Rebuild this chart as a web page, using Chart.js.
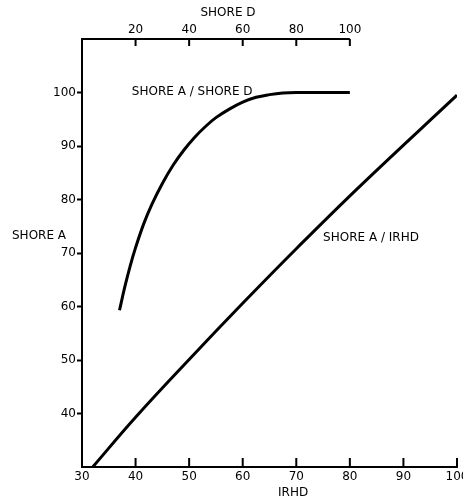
<!DOCTYPE html>
<html>
<head>
<meta charset="utf-8">
<script src="https://cdn.jsdelivr.net/npm/chart.js@4/dist/chart.umd.min.js"></script>
<style>
  body { margin: 0; background: #fff; }
  #shoreChart { display: block; }
</style>
</head>
<body>
<canvas id="shoreChart" width="463" height="500"></canvas>
<script>
// Shore A vs IRHD (bottom axis)
var irhd = [32, 40, 50, 60, 70, 82, 100];
var shoreAvsIrhd = [30, 39.3, 50.1, 60.6, 70.8, 82.6, 99.5];

// Shore A vs Shore D (top axis)
var shoreD = [14, 16, 18, 20, 23, 26, 30, 34, 38, 42, 46, 50, 55, 60, 65, 70, 75, 80, 90, 100];
var shoreAvsD = [59.3, 63.7, 67.6, 71.0, 75.4, 79.0, 83.0, 86.4, 89.2, 91.6, 93.6, 95.3, 96.9, 98.2, 99.1, 99.6, 99.9, 100, 100, 100];

// tick labels
var irhdTicks = [30, 40, 50, 60, 70, 80, 90, 100];
var shoreDTicks = [20, 40, 60, 80, 100];
var shoreATicks = [40, 50, 60, 70, 80, 90, 100];

var FONT = '"DejaVu Sans", sans-serif';

function toPoints(xs, ys) {
    return xs.map(function (x, i) { return { x: x, y: ys[i] }; });
}

function setTicks(values) {
    return function (scale) {
        scale.ticks = values.map(function (v) { return { value: v }; });
    };
}

// inward tick marks, short top axis line and the free text labels
var decorations = {
    id: 'decorations',
    afterDraw: function (chart) {
        var c = chart.ctx;
        var x = chart.scales.x, x2 = chart.scales.x2, y = chart.scales.y;
        var area = chart.chartArea;
        c.save();
        c.strokeStyle = '#000';
        c.lineWidth = 2;
        c.beginPath();
        // top axis only runs from 0 to 100 Shore D
        c.moveTo(x2.getPixelForValue(0), area.top);
        c.lineTo(x2.getPixelForValue(100), area.top);
        x.ticks.forEach(function (t) {
            var px = x.getPixelForValue(t.value);
            c.moveTo(px, area.bottom);
            c.lineTo(px, area.bottom - 9);
        });
        x2.ticks.forEach(function (t) {
            var px = x2.getPixelForValue(t.value);
            c.moveTo(px, area.top);
            c.lineTo(px, area.top + 7);
        });
        c.stroke();

        c.fillStyle = '#000';
        c.font = '12px ' + FONT;
        c.textBaseline = 'middle';
        c.textAlign = 'center';
        c.fillText('SHORE D', x2.getPixelForValue(54.5), 13);
        c.fillText('IRHD', x.getPixelForValue(69.4), 493);
        c.textAlign = 'left';
        c.fillText('SHORE A / SHORE D', x.getPixelForValue(39.3), y.getPixelForValue(100.2));
        c.fillText('SHORE A / IRHD', x.getPixelForValue(75), y.getPixelForValue(72.8));
        c.fillText('SHORE A', 12, y.getPixelForValue(73.2));
        c.restore();
    }
};

var ctx = document.getElementById('shoreChart').getContext('2d');
var shoreChart = new Chart(ctx, {
    type: 'line',
    data: {
        datasets: [
            {
                label: 'SHORE A / IRHD',
                data: toPoints(irhd, shoreAvsIrhd),
                xAxisID: 'x',
                yAxisID: 'y',
                borderColor: '#000',
                borderWidth: 3,
                pointRadius: 0,
                fill: false,
                tension: 0.4
            },
            {
                label: 'SHORE A / SHORE D',
                data: toPoints(shoreD, shoreAvsD),
                xAxisID: 'x2',
                yAxisID: 'y',
                borderColor: '#000',
                borderWidth: 3,
                pointRadius: 0,
                fill: false,
                tension: 0.4
            }
        ]
    },
    options: {
        responsive: false,
        animation: false,
        layout: { padding: { left: 0, right: 6, top: 0, bottom: 0 } },
        plugins: {
            legend: { display: false },
            tooltip: { enabled: false }
        },
        scales: {
            x: {
                type: 'linear',
                position: 'bottom',
                min: 30,
                max: 100,
                afterBuildTicks: setTicks(irhdTicks),
                afterFit: function (s) { s.height = 33; s.paddingLeft = 0; s.paddingRight = 0; },
                grid: { drawOnChartArea: false, drawTicks: false },
                border: { display: true, color: '#000', width: 2 },
                ticks: { color: '#000', padding: 3, maxRotation: 0, autoSkip: false, font: { family: FONT, size: 12 } }
            },
            x2: {
                type: 'linear',
                position: 'top',
                min: 0,
                max: 140,
                afterBuildTicks: setTicks(shoreDTicks),
                afterFit: function (s) { s.height = 39; s.paddingLeft = 0; s.paddingRight = 0; },
                grid: { drawOnChartArea: false, drawTicks: false },
                border: { display: false },
                ticks: { color: '#000', padding: 2, maxRotation: 0, autoSkip: false, font: { family: FONT, size: 12 } }
            },
            y: {
                type: 'linear',
                position: 'left',
                min: 30,
                max: 110,
                afterBuildTicks: setTicks(shoreATicks),
                afterFit: function (s) { s.width = 82; s.paddingTop = 0; s.paddingBottom = 0; },
                grid: { drawOnChartArea: false, drawTicks: true, tickLength: 5, tickWidth: 2, tickColor: '#000' },
                border: { display: true, color: '#000', width: 2 },
                ticks: { color: '#000', padding: 1, autoSkip: false, font: { family: FONT, size: 12 } }
            }
        }
    },
    plugins: [decorations]
});
</script>
</body>
</html>
